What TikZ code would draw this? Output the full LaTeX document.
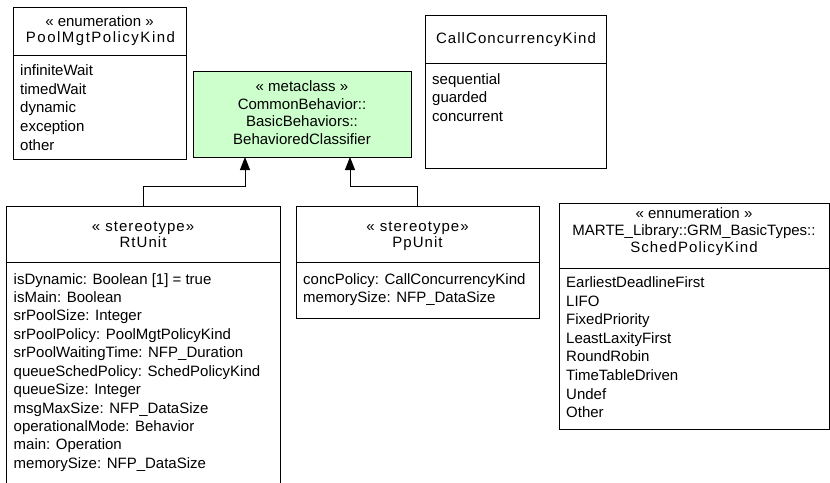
\documentclass[tikz,border=0pt]{standalone}
\usepackage{fontspec}
\setmainfont{Liberation Sans}
\usetikzlibrary{arrows.meta}
\definecolor{mcgreen}{RGB}{204,255,204}
\tikzset{
  box/.style={draw=black, line width=1pt, anchor=north west, inner sep=0pt, outer sep=0pt, rectangle},
  sepline/.style={line width=1pt},
  txt/.style={anchor=base west, inner sep=0pt, font=\fontsize{15}{18}\selectfont},
  ttl/.style={anchor=base, inner sep=0pt, font=\fontsize{15}{18}\selectfont},
  spc/.style={anchor=base, inner sep=0pt, font=\fontsize{15}{18}\selectfont\addfontfeature{LetterSpace=7}},
  wspc/.style={anchor=base, inner sep=0pt, font=\fontsize{15}{18}\selectfont\addfontfeature{LetterSpace=10}},
  gen/.style={line width=0.8pt, -{Triangle[width=10pt,length=13pt]}}
}
\begin{document}
\begin{tikzpicture}[x=1pt,y=-1pt]
\clip (0,0) rectangle (830,482);
\fill[white] (0,0) rectangle (830,482);

% PoolMgtPolicyKind
\node[box, minimum width=173pt, minimum height=152pt] (pool) at (13,7) {};
\draw[sepline] (pool.west |- 0,55) -- (pool.east |- 0,55);
\node[ttl] (pool-s) at (99.5,26.5) {« enumeration »};
\node[wspc] (pool-n) at (100.5,42) {PoolMgtPolicyKind};
\foreach \t [count=\i from 0] in {infiniteWait,timedWait,dynamic,exception,other}
  \node[txt] (pool-\i) at (20,75.7+18.6*\i) {\t};

% metaclass
\node[box, fill=mcgreen, minimum width=218pt, minimum height=86pt] (mc) at (193,71) {};
\node[ttl] (mc-1) at (302,91.5) {« metaclass »};
\node[ttl] (mc-2) at (302,109.2) {CommonBehavior::};
\node[ttl] (mc-3) at (302,126.9) {BasicBehaviors::};
\node[ttl] (mc-4) at (302,144.6) {BehavioredClassifier};

% CallConcurrencyKind
\node[box, minimum width=181pt, minimum height=153pt] (cc) at (425,15) {};
\draw[sepline] (cc.west |- 0,63) -- (cc.east |- 0,63);
\node[spc] (cc-n) at (516,43.5) {CallConcurrencyKind};
\foreach \t [count=\i from 0] in {sequential,guarded,concurrent}
  \node[txt] (cc-\i) at (432,84+18.7*\i) {\t};

% RtUnit
\node[box, minimum width=274pt, minimum height=300pt] (rt) at (6,206) {};
\draw[sepline] (rt.west |- 0,262) -- (rt.east |- 0,262);
\node[spc] (rt-s) at (143,231.7) {« stereotype»};
\node[spc] (rt-n) at (143,247.7) {RtUnit};
\foreach \t [count=\i from 0] in {{isDynamic: Boolean [1] = true},{isMain: Boolean},{srPoolSize: Integer},{srPoolPolicy: PoolMgtPolicyKind},{srPoolWaitingTime: NFP\_Duration},{queueSchedPolicy: SchedPolicyKind},{queueSize: Integer},{msgMaxSize: NFP\_DataSize},{operationalMode: Behavior},{main: Operation},{memorySize: NFP\_DataSize}}
  \node[txt] (rt-\i) at (13.5,284+18.43*\i) {\t};

% PpUnit
\node[box, minimum width=243pt, minimum height=112pt] (pp) at (296,206) {};
\draw[sepline] (pp.west |- 0,262) -- (pp.east |- 0,262);
\node[spc] (pp-s) at (417.5,231.7) {« stereotype»};
\node[spc] (pp-n) at (417.5,247.7) {PpUnit};
\foreach \t [count=\i from 0] in {{concPolicy: CallConcurrencyKind},{memorySize: NFP\_DataSize}}
  \node[txt] (pp-\i) at (303,284+18.5*\i) {\t};

% SchedPolicyKind
\node[box, minimum width=270pt, minimum height=226pt] (sp) at (559,203) {};
\draw[sepline] (sp.west |- 0,268) -- (sp.east |- 0,268);
\node[ttl] (sp-s) at (694,218.5) {« ennumeration »};
\node[ttl] (sp-m) at (694,235.3) {MARTE\_Library::GRM\_BasicTypes::};
\node[spc] (sp-n) at (694,252) {SchedPolicyKind};
\foreach \t [count=\i from 0] in {EarliestDeadlineFirst,LIFO,FixedPriority,LeastLaxityFirst,RoundRobin,TimeTableDriven,Undef,Other}
  \node[txt] (sp-\i) at (566,287.7+18.57*\i) {\t};

% generalizations
\coordinate (tipL) at (245,157);
\coordinate (tipR) at (350,157);
\draw[gen] (rt.north) -- ++(0,-20) -| (tipL);
\draw[gen] (pp.north) -- ++(0,-20) -| (tipR);
\end{tikzpicture}
\end{document}
